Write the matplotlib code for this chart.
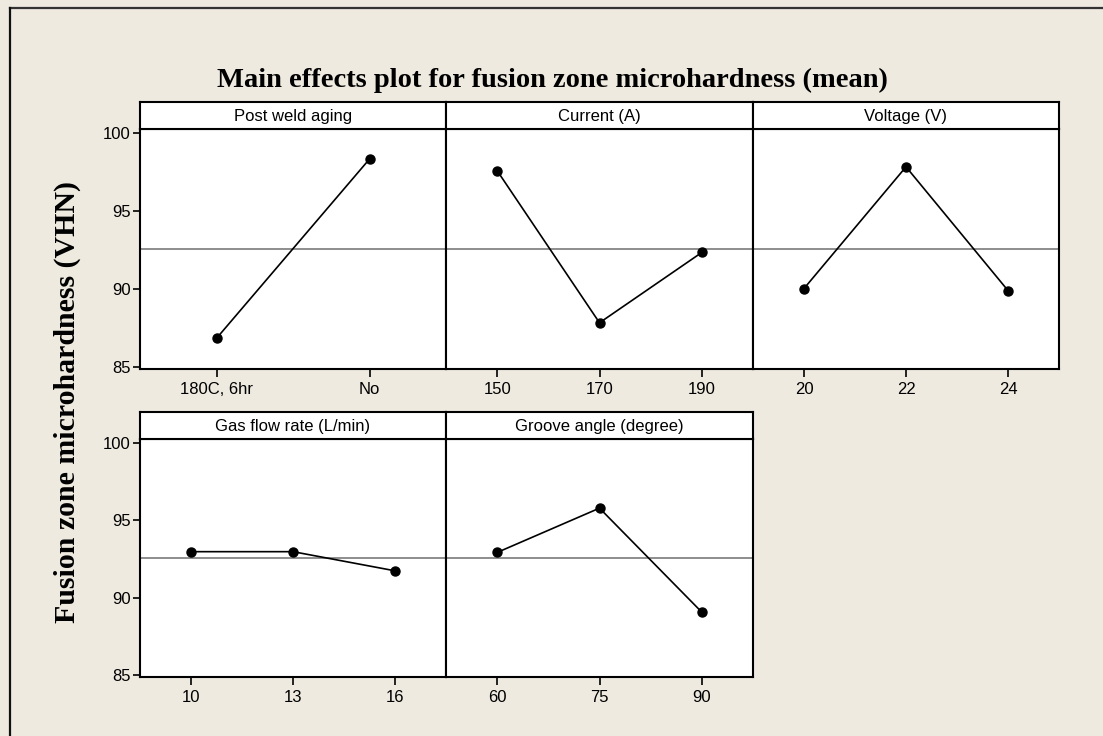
import numpy as np
import matplotlib
matplotlib.use("Agg")
import matplotlib.pyplot as plt
from matplotlib.lines import Line2D

# factor names, levels and mean responses (VHN)
factors = ["Post weld aging", "Current (A)", "Voltage (V)",
           "Gas flow rate (L/min)", "Groove angle (degree)"]
aging_levels = ["180C, 6hr", "No"]
current_levels = ["150", "170", "190"]
voltage_levels = ["20", "22", "24"]
gas_levels = ["10", "13", "16"]
groove_levels = ["60", "75", "90"]

aging_means = [86.82, 98.34]
current_means = [97.59, 87.82, 92.34]
voltage_means = [90.02, 97.84, 89.89]
gas_means = [92.97, 92.97, 91.73]
groove_means = [92.92, 95.79, 89.05]

levels = [aging_levels, current_levels, voltage_levels, gas_levels, groove_levels]
means = [aging_means, current_means, voltage_means, gas_means, groove_means]
grand_mean = np.mean(aging_means)

W, H = 1103, 736
BG = "#eeeae0"
LABEL_FONT = ["Liberation Sans", "DejaVu Sans"]
SERIF = ["Liberation Serif", "DejaVu Serif"]

fig = plt.figure(figsize=(W / 100, H / 100), dpi=100, facecolor=BG)


def box(x0, y0, x1, y1):
    # pixel box (top-left origin) -> figure fractions
    return [x0 / W, 1 - y1 / H, (x1 - x0) / W, (y1 - y0) / H]


# outer frame lines (top and left)
fig.add_artist(Line2D([10 / W, 1], [1 - 8 / H, 1 - 8 / H], color="#333333",
                      lw=1.6, transform=fig.transFigure))
fig.add_artist(Line2D([10 / W, 10 / W], [0, 1 - 8 / H], color="#111111",
                      lw=1.6, transform=fig.transFigure))

col_x = [(140, 446), (446, 753), (753, 1059)]
rows = [(102, 129, 369), (412, 439, 677)]

for i, (name, lev, vals) in enumerate(zip(factors, levels, means)):
    r, c = divmod(i, 3)
    x0, x1 = col_x[c]
    s0, p0, p1 = rows[r]

    ax = fig.add_axes(box(x0, p0, x1, p1))
    ax.set_facecolor("white")
    xs = np.arange(len(lev))
    ax.axhline(grand_mean, color="#7a7a7a", lw=1.2, zorder=1)
    ax.plot(xs, vals, color="black", lw=1.2, marker="o", ms=6.5, zorder=3)
    ax.set_xlim(-0.5, len(lev) - 0.5)
    ax.set_ylim(84.85, 100.27)
    ax.set_xticks(xs)
    ax.set_xticklabels(lev, fontsize=12, family=LABEL_FONT)
    ax.set_yticks([85, 90, 95, 100])
    ax.tick_params(axis="x", direction="out", length=6, width=1.2, pad=3)
    if c == 0:
        ax.tick_params(axis="y", direction="out", length=5, width=1.2, pad=1.5,
                       labelsize=12)
        for t in ax.get_yticklabels():
            t.set_family(LABEL_FONT)
    else:
        ax.tick_params(axis="y", left=False, labelleft=False)
    for sp in ax.spines.values():
        sp.set_linewidth(1.5)
        sp.set_color("black")

    # panel header strip
    st = fig.add_axes(box(x0, s0, x1, p0))
    st.set_facecolor("white")
    st.set_xticks([])
    st.set_yticks([])
    for sp in st.spines.values():
        sp.set_linewidth(1.5)
        sp.set_color("black")
    st.text(0.5, 0.45, name, ha="center", va="center", fontsize=12,
            family=LABEL_FONT, transform=st.transAxes)

fig.text(552 / W, 1 - 80 / H,
         "Main effects plot for fusion zone microhardness (mean)",
         ha="center", va="center", fontsize=20.5, fontweight="bold",
         family=SERIF)
fig.text(67 / W, 1 - 402 / H, "Fusion zone microhardness (VHN)",
         ha="center", va="center", rotation=90, fontsize=21.5,
         fontweight="bold", family=SERIF)

fig.savefig("out.png", dpi=100, facecolor=BG)
